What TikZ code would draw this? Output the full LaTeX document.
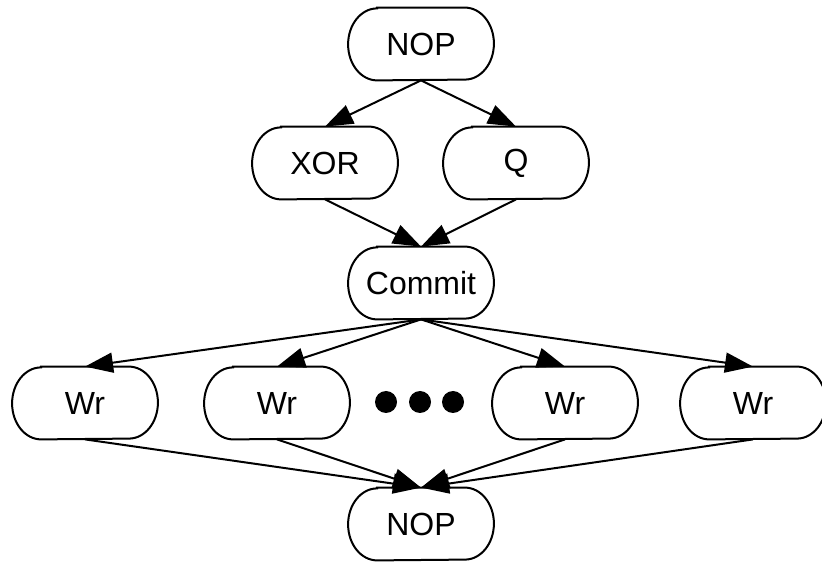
\documentclass[tikz,border=0pt]{standalone}
\usepackage{fontspec}
\setmainfont{Liberation Sans}
\usetikzlibrary{arrows.meta}
\tikzset{
  opnode/.style={rectangle, minimum width=72.5pt, minimum height=36pt, inner sep=0pt,
    font=\fontsize{16}{19}\selectfont,
    append after command={\pgfextra{
      \draw[line width=1pt] ([xshift=14.5pt]\tikzlastnode.north west)
        -- ([xshift=-14.5pt]\tikzlastnode.north east)
        arc[start angle=90, end angle=-90, x radius=14.5pt, y radius=18pt]
        -- ([xshift=14.5pt]\tikzlastnode.south west)
        arc[start angle=270, end angle=90, x radius=14.5pt, y radius=18pt] -- cycle;}}},
  edge/.style={line width=1pt, -{Triangle[length=14pt,width=10pt]}}
}
\begin{document}
\begin{tikzpicture}[x=0.5pt,y=0.5pt]
        \useasboundingbox (0,0) rectangle (822,561);
        
        % Nodes
        \node[opnode] (nop1) at (421,517) {NOP};
        \node[opnode] (xor) at (325,398) {XOR};
        \node[opnode] (q) at (516,398) {Q};
        \node[opnode] (commit) at (421,278) {Commit};
        \node[opnode] (wr1) at (85,158) {Wr};
        \node[opnode] (wr2) at (277,158) {Wr};
        \node[opnode] (wr3) at (565,158) {Wr};
        \node[opnode] (wr4) at (753,158) {Wr};
        \node[opnode] (nop2) at (421,37) {NOP};
        
        % Dots
        \foreach \x in {386,420,453}
            \fill[black] (\x,159) circle (5.5pt);
        
        % Edges
        \draw[edge] (nop1.south) -- (xor.north);
        \draw[edge] (nop1.south) -- (q.north);
        \draw[edge] (xor.south) -- (commit.north);
        \draw[edge] (q.south) -- (commit.north);
        \foreach \w in {wr1,wr2,wr3,wr4} {
            \draw[edge] (commit.south) -- (\w.north);
            \draw[edge] (\w.south) -- (nop2.north);
        }
        
    \end{tikzpicture}
\end{document}
